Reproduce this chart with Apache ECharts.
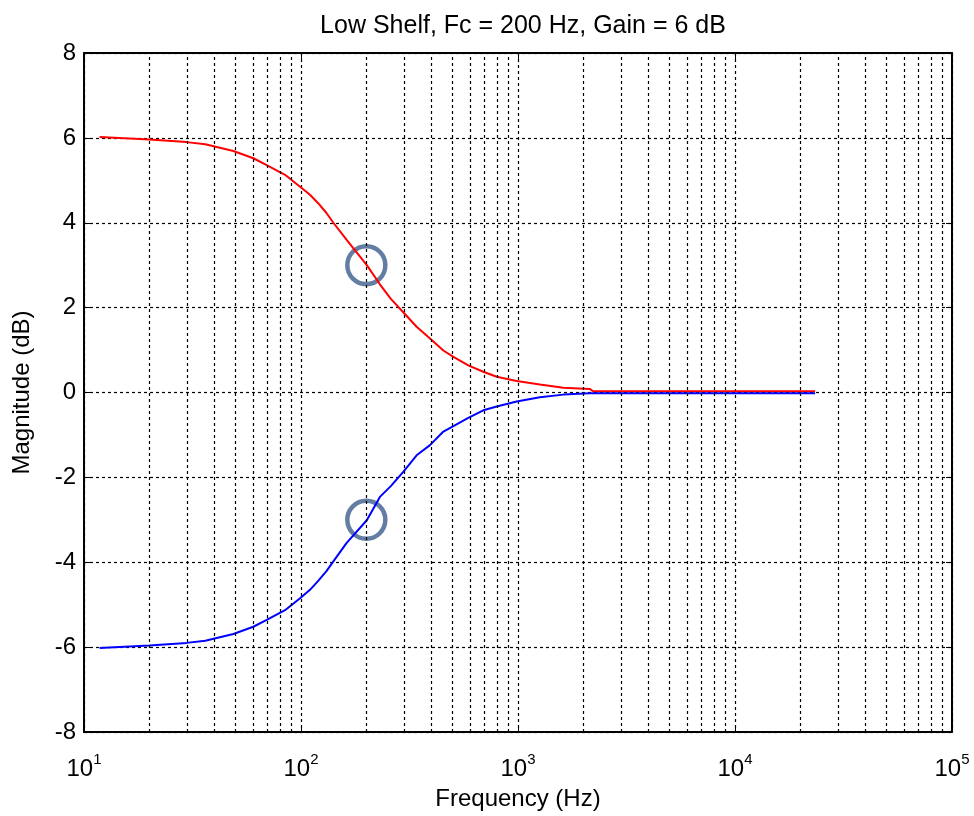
<!DOCTYPE html>
<html>
<head>
<meta charset="utf-8">
<script src="https://cdn.jsdelivr.net/npm/echarts@6/dist/echarts.min.js"></script>
<style>
  html, body { margin: 0; padding: 0; background: #fff; }
  #chart { width: 974px; height: 816px; }
</style>
</head>
<body>
<div id="chart"></div>
<script>
// frequencies (Hz)
var freqs = [11.8, 20, 29.7, 36.2, 48.8, 60.3, 69.5, 84.4, 99, 110, 120, 131, 141, 162, 201, 231, 260, 296, 341, 393, 453, 504, 590, 692, 798, 986, 1262, 1617, 2148, 2220, 5000, 23400];
// boost curve (dB)
var boost = [6.02, 5.96, 5.90, 5.85, 5.69, 5.52, 5.36, 5.13, 4.85, 4.66, 4.46, 4.23, 4.0, 3.6, 3.0, 2.55, 2.2, 1.89, 1.55, 1.27, 0.99, 0.84, 0.64, 0.49, 0.37, 0.27, 0.19, 0.11, 0.08, 0.03, 0.03, 0.03];
// cut curve (dB)
var cut = [-6.02, -5.96, -5.90, -5.85, -5.69, -5.52, -5.36, -5.13, -4.85, -4.65, -4.44, -4.21, -3.98, -3.55, -3.01, -2.46, -2.2, -1.87, -1.48, -1.24, -0.92, -0.79, -0.6, -0.42, -0.33, -0.21, -0.11, -0.05, -0.02, -0.02, -0.02, -0.02];
// -3 dB / +3 dB points at fc
var markers = [[200, 3], [200, -3]];

function pairs(xs, ys) {
  return xs.map(function (x, i) { return [x, ys[i]]; });
}

// minor log grid lines 20..90, 200..900, ...
var minorGrid = [];
[10, 100, 1000, 10000].forEach(function (d) {
  for (var k = 2; k <= 9; k++) minorGrid.push({ xAxis: k * d });
});

var chart = echarts.init(document.getElementById("chart"));
var font = "Liberation Sans, Arial, sans-serif";
var grid = { type: [3, 3], color: "#000", width: 1.2 };

var option = {
  animation: false,
  title: {
    text: "Low Shelf, Fc = 200 Hz, Gain = 6 dB",
    left: 518, top: 9, textAlign: "center",
    textStyle: { fontFamily: font, fontSize: 25, fontWeight: "normal", color: "#000" }
  },
  grid: { left: 84, top: 53, right: 22, bottom: 82 },
  xAxis: [{
    type: "log", logBase: 10, min: 10, max: 100000,
    name: "Frequency (Hz)", nameLocation: "middle", nameGap: 55,
    nameTextStyle: { fontFamily: font, fontSize: 24, color: "#000" },
    axisLine: { onZero: false, lineStyle: { color: "#000", width: 2 } },
    axisTick: { inside: true, length: 6, lineStyle: { color: "#000" } },
    splitLine: { show: true, lineStyle: grid },
    axisLabel: {
      margin: 20,
      formatter: function (v) { return "{b|10}{s|" + Math.round(Math.log10(v)) + "}"; },
      rich: {
        b: { fontFamily: font, fontSize: 24, color: "#000" },
        s: { fontFamily: font, fontSize: 15, color: "#000", padding: [0, 0, 20, 0] }
      }
    }
  }, {
    type: "log", logBase: 10, min: 10, max: 100000, position: "top",
    axisLine: { onZero: false, lineStyle: { color: "#000", width: 2 } },
    axisTick: { inside: true, length: 6, lineStyle: { color: "#000" } },
    axisLabel: { show: false }, splitLine: { show: false }
  }],
  yAxis: [{
    type: "value", min: -8, max: 8, interval: 2,
    name: "Magnitude (dB)", nameLocation: "middle", nameGap: 50,
    nameTextStyle: { fontFamily: font, fontSize: 24, color: "#000" },
    axisLine: { onZero: false, lineStyle: { color: "#000", width: 2 } },
    axisTick: { inside: true, length: 6, lineStyle: { color: "#000" } },
    splitLine: { show: true, lineStyle: grid },
    axisLabel: { margin: 8, fontFamily: font, fontSize: 24, color: "#000" }
  }, {
    type: "value", min: -8, max: 8, interval: 2, position: "right",
    axisLine: { show: true, onZero: false, lineStyle: { color: "#000", width: 2 } },
    axisTick: { show: true, inside: true, length: 6, lineStyle: { color: "#000" } },
    axisLabel: { show: false }, splitLine: { show: false }
  }],
  series: [{
    type: "line", data: pairs(freqs, boost), showSymbol: false,
    lineStyle: { color: "#ff0000", width: 2 },
    markLine: {
      silent: true, symbol: ["none", "none"], label: { show: false },
      lineStyle: grid, data: minorGrid
    }
  }, {
    type: "line", data: pairs(freqs, cut), showSymbol: false,
    lineStyle: { color: "#0000ff", width: 2 }
  }, {
    type: "scatter", data: markers, symbol: "circle", symbolSize: 38,
    itemStyle: { color: "rgba(0,0,0,0)", borderColor: "#3d5d8c", borderWidth: 4.5 }
  }]
};
chart.setOption(option);
</script>
</body>
</html>
